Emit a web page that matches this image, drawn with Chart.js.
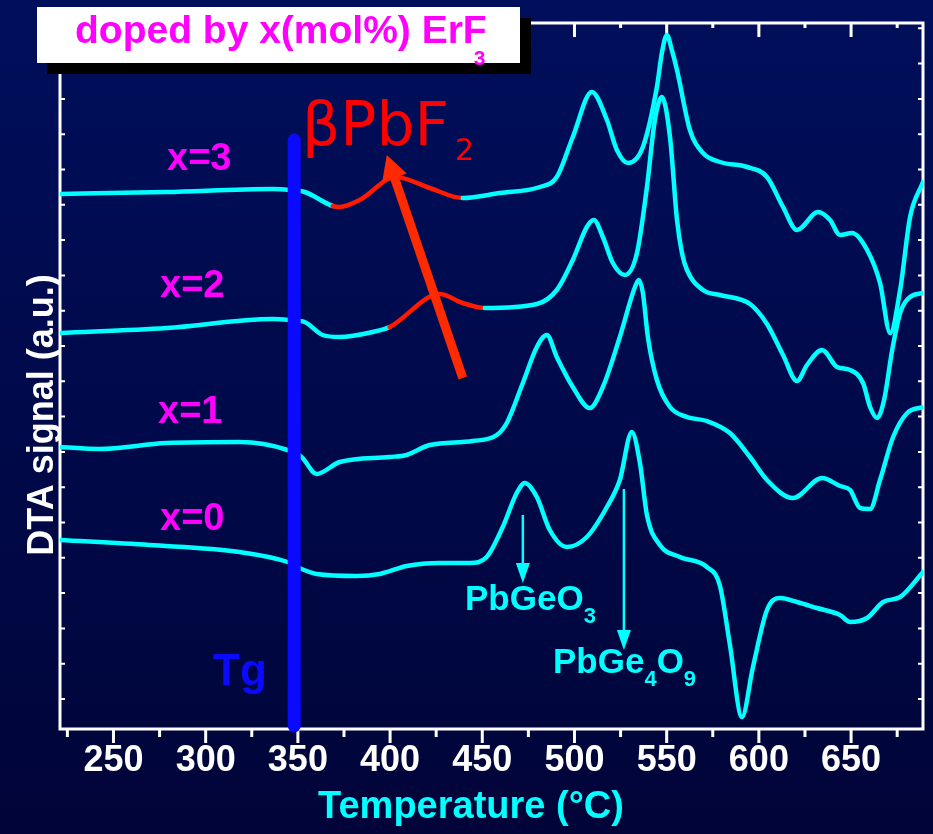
<!DOCTYPE html>
<html>
<head>
<meta charset="utf-8">
<title>DTA curves, ErF3 doped glasses</title>
<script src="https://cdn.jsdelivr.net/npm/chart.js@4.4.1/dist/chart.umd.min.js"></script>
<style>
  html, body { margin: 0; padding: 0; }
  #wrap { width: 933px; height: 834px; background: linear-gradient(#000f5c, #000438); }
</style>
</head>
<body>
<div id="wrap"><canvas id="dta" width="933" height="834"></canvas></div>
<script>
// temperature (°C) / DTA signal (a.u., curves stacked with offsets)
const tempX3 = [220.7, 278.8, 336.3, 345.5, 353.7, 368.9, 372.7, 383.5, 403.1, 421.5, 439.4, 459.5, 481.2, 490.4, 499.1, 509.4, 517.6, 523, 529, 537.1, 544.7, 547.4, 550.1, 552.8, 555.6, 562.6, 569.7, 578.9, 593.6, 604.4, 613.1, 620.7, 632.1, 638.6, 644, 650.5, 658.7, 665.7, 671.2, 676.6, 682, 689];
const sigX3  = [535, 537, 540, 539, 537, 523, 522, 529, 552, 541, 531, 536, 542, 552, 592, 637, 609, 579, 566, 582, 642, 676, 694, 679, 659, 599, 576, 567, 562, 552, 522, 499, 517, 509, 494, 496, 479, 446, 396, 439, 512, 547];

const tempX2 = [220.7, 278.8, 336.3, 345.5, 353.7, 363.4, 372.7, 390.6, 399.8, 426.9, 439.4, 451.4, 479.6, 490.4, 499.1, 506.7, 510.5, 515.4, 520.8, 527.3, 533.9, 539.3, 543.6, 547.4, 551.8, 555.6, 558.3, 561, 569.7, 578.9, 595.2, 604.4, 613.1, 620.7, 626.1, 634.3, 642.4, 649.5, 656.5, 660.3, 664.1, 667.9, 672.3, 676.6, 682, 689];
const sigX2  = [396, 401, 410, 409, 407, 394, 392, 397, 402, 435, 426, 421, 425, 439, 469, 502, 509, 492, 466, 454, 476, 542, 609, 632, 592, 509, 476, 459, 439, 434, 425, 405, 374, 348, 364, 379, 362, 359, 346, 322, 311, 329, 379, 416, 432, 436];

const tempX1 = [220.7, 242.4, 278.8, 318.4, 344.4, 352, 360.2, 372.7, 399.8, 409, 421.5, 444.8, 457.9, 463.3, 472, 479.6, 485, 490.4, 499.1, 508.3, 515.4, 524.6, 532.8, 534.9, 537.1, 539.8, 544.7, 551.8, 561, 571.8, 584.3, 595.2, 604.4, 618.5, 634.3, 644, 649.5, 654.9, 660.3, 665.7, 672.8, 680.4, 689];
const sigX1  = [282, 280, 286, 287, 279, 272, 255, 267, 272, 274, 284, 288, 294, 306, 346, 382, 394, 372, 342, 321, 342, 392, 442, 449, 436, 392, 349, 322, 312, 308, 296, 272, 249, 231, 251, 243, 239, 221, 220, 249, 292, 316, 322];

const tempX0 = [220.7, 269.5, 318.4, 344.4, 352, 360.2, 381.9, 394.4, 409, 426.9, 443.2, 452.4, 461.1, 468.7, 473.1, 479.6, 486.6, 495.9, 506.7, 517.6, 524.6, 531.1, 535.5, 539.3, 546.3, 557.2, 571.8, 578.9, 584.3, 590.8, 596.8, 604.4, 611.5, 620.7, 631.5, 644, 649.5, 658.7, 667.4, 676.6, 689];
const sigX0  = [189, 184, 177, 167, 160, 155, 153, 155, 163, 166, 166, 172, 202, 236, 246, 232, 199, 182, 192, 222, 249, 297, 266, 214, 184, 172, 162, 143, 84, 12, 62, 119, 131, 127, 121, 114, 107, 111, 127, 132, 157];

// beta-PbF2 crystallisation range highlighted in red
const pbf2RangeX3 = [368.9, 439.4];
const pbf2RangeX2 = [399.8, 451.4];

// glass transition marker
const tgTemp = 348;
const tgSpan = [3, 589];

const xTickLabels = [250, 300, 350, 400, 450, 500, 550, 600, 650];

// annotation arrows [temp, signal]
const pbf2Arrow = { from: [439.4, 351], to: [398.2, 574] };
const pbgeo3Arrow = { from: [472, 214], to: [472, 146] };
const pbge4o9Arrow = { from: [526.8, 240], to: [526.8, 79] };

const CYAN = '#00ffff';
const RED = '#ff1a00';
const MAGENTA = '#ff00ff';
const SANS = '"Liberation Sans", Arial, sans-serif';

function curve(label, temps, sig, red) {
    return {
        label,
        data: temps.map((t, i) => ({ x: t, y: sig[i] })),
        borderColor: CYAN,
        borderWidth: 4.5,
        borderCapStyle: 'round',
        borderJoinStyle: 'round',
        pointRadius: 0,
        cubicInterpolationMode: 'monotone',
        fill: false,
        order: 2,
        segment: {
            borderColor: ctx => (red && ctx.p0.parsed.x >= red[0] - 0.01 && ctx.p1.parsed.x <= red[1] + 0.01) ? RED : undefined
        }
    };
}

function arrow(ctx, x0, y0, x1, y1, w, hl, hw, color) {
    const a = Math.atan2(y1 - y0, x1 - x0);
    const bx = x1 - hl * Math.cos(a), by = y1 - hl * Math.sin(a);
    ctx.strokeStyle = color;
    ctx.lineWidth = w;
    ctx.lineCap = 'butt';
    ctx.beginPath();
    ctx.moveTo(x0, y0);
    ctx.lineTo(bx, by);
    ctx.stroke();
    ctx.fillStyle = color;
    ctx.beginPath();
    ctx.moveTo(x1, y1);
    ctx.lineTo(bx + hw * Math.sin(a), by - hw * Math.cos(a));
    ctx.lineTo(bx - hw * Math.sin(a), by + hw * Math.cos(a));
    ctx.closePath();
    ctx.fill();
}

// text with sub/superscript pieces
function runs(ctx, x, y, parts, color, family) {
    ctx.fillStyle = color;
    ctx.textAlign = 'left';
    ctx.textBaseline = 'alphabetic';
    for (const p of parts) {
        ctx.font = `${p.w || 'bold'} ${p.s}px ${family || SANS}`;
        x += p.dx || 0;
        ctx.fillText(p.t, x, y + (p.dy || 0));
        x += ctx.measureText(p.t).width;
    }
}

const decor = {
    id: 'decor',
    beforeDatasetsDraw(chart) {
        const { ctx, chartArea: a, scales } = chart;
        const px = v => scales.x.getPixelForValue(v);
        const py = v => scales.y.getPixelForValue(v);
        ctx.save();
        ctx.strokeStyle = '#ffffff';
        ctx.lineWidth = 3;
        ctx.strokeRect(a.left, a.top, a.right - a.left, a.bottom - a.top);
        ctx.beginPath();
        for (let t = 225; t <= 675; t += 25) {
            const major = t % 50 === 0;
            const x = px(t);
            ctx.moveTo(x, a.bottom);
            ctx.lineTo(x, a.bottom + (major ? 14 : 8));
            ctx.moveTo(x, a.top);
            ctx.lineTo(x, a.top + (major ? 14 : 5));
        }
        ctx.stroke();
        ctx.lineWidth = 2;
        ctx.beginPath();
        for (let v = 30; v < 706; v += 35.3) {
            const y = py(v);
            ctx.moveTo(a.left, y);
            ctx.lineTo(a.left + 5, y);
            ctx.moveTo(a.right, y);
            ctx.lineTo(a.right - 5, y);
        }
        ctx.stroke();
        ctx.restore();
    },
    afterDatasetsDraw(chart) {
        const { ctx, scales } = chart;
        const px = v => scales.x.getPixelForValue(v);
        const py = v => scales.y.getPixelForValue(v);
        const drawArrow = (ar, w, hl, hw, c) =>
            arrow(ctx, px(ar.from[0]), py(ar.from[1]), px(ar.to[0]), py(ar.to[1]), w, hl, hw, c);
        ctx.save();

        drawArrow(pbf2Arrow, 9, 24, 13, '#ff2a00');
        drawArrow(pbgeo3Arrow, 2.5, 20, 7, CYAN);
        drawArrow(pbge4o9Arrow, 2.5, 20, 7, CYAN);

        // title box with drop shadow
        ctx.fillStyle = '#000000';
        ctx.fillRect(47, 18, 484, 56);
        ctx.fillStyle = '#ffffff';
        ctx.fillRect(37, 7, 483, 56);
        runs(ctx, 75, 43, [{ t: 'doped by x(mol%) ErF', s: 39 }, { t: '3', s: 21, dx: -13, dy: 22 }], MAGENTA);

        // composition labels
        ctx.font = `bold 38px ${SANS}`;
        ctx.fillStyle = MAGENTA;
        ctx.fillText('x=3', 167, 170);
        ctx.fillText('x=2', 160, 297);
        ctx.fillText('x=1', 158, 423);
        ctx.fillText('x=0', 160, 530);

        ctx.font = `bold 44px ${SANS}`;
        ctx.fillStyle = '#0a0aff';
        ctx.fillText('Tg', 213, 685);

        runs(ctx, 302, 145, [{ t: '\u03b2PbF', s: 60, w: 'normal' }, { t: '2', s: 30, w: 'normal', dx: 6, dy: 15 }], '#ff0000', '"DejaVu Sans", sans-serif');

        runs(ctx, 465, 610, [{ t: 'PbGeO', s: 35 }, { t: '3', s: 22, dy: 13 }], CYAN);
        runs(ctx, 553, 673, [{ t: 'PbGe', s: 35 }, { t: '4', s: 22, dy: 13 }, { t: 'O', s: 35 }, { t: '9', s: 22, dy: 13 }], CYAN);

        // axis titles
        ctx.fillStyle = CYAN;
        ctx.font = `bold 38px ${SANS}`;
        ctx.textAlign = 'center';
        ctx.fillText('Temperature (\u00b0C)', 471, 818);

        ctx.fillStyle = '#ffffff';
        ctx.font = `bold 36px ${SANS}`;
        ctx.translate(53, 415);
        ctx.rotate(-Math.PI / 2);
        ctx.fillText('DTA signal (a.u.)', 0, 0);
        ctx.restore();
    }
};

new Chart(document.getElementById('dta'), {
    type: 'line',
    data: {
        datasets: [
            {
                label: 'Tg',
                data: [{ x: tgTemp, y: tgSpan[0] }, { x: tgTemp, y: tgSpan[1] }],
                borderColor: '#0a0aff',
                borderWidth: 13,
                borderCapStyle: 'round',
                pointRadius: 0,
                tension: 0,
                clip: false,
                order: 1
            },
            curve('x=3', tempX3, sigX3, pbf2RangeX3),
            curve('x=2', tempX2, sigX2, pbf2RangeX2),
            curve('x=1', tempX1, sigX1, null),
            curve('x=0', tempX0, sigX0, null)
        ]
    },
    options: {
        responsive: false,
        animation: false,
        events: [],
        layout: { padding: { left: 60, top: 23, right: 10, bottom: 0 } },
        plugins: {
            legend: { display: false },
            tooltip: { enabled: false }
        },
        scales: {
            x: {
                type: 'linear',
                min: 221,
                max: 689,
                afterFit: s => { s.height = 105; },
                grid: { display: false, drawTicks: false },
                border: { display: false },
                ticks: {
                    stepSize: 25,
                    includeBounds: false,
                    autoSkip: false,
                    maxRotation: 0,
                    padding: 10,
                    color: '#ffffff',
                    font: { family: SANS, size: 36, weight: 'bold' },
                    callback: v => xTickLabels.includes(v) ? String(v) : ''
                }
            },
            y: { display: false, min: 0, max: 706 }
        }
    },
    plugins: [decor]
});
</script>
</body>
</html>
